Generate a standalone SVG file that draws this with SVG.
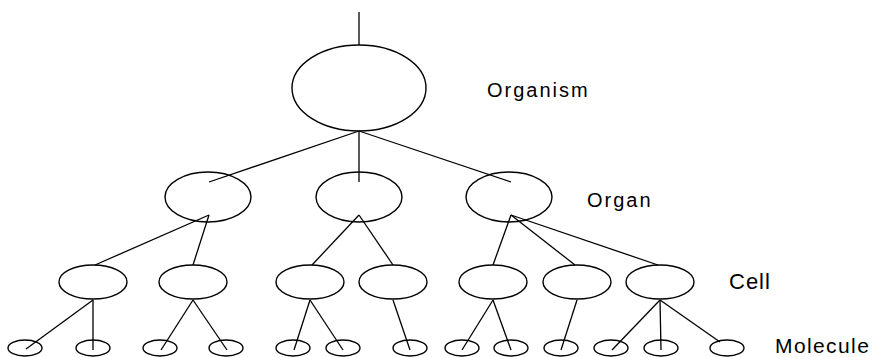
<svg xmlns="http://www.w3.org/2000/svg" width="875" height="357" viewBox="0 0 875 357">
<style>
.n{fill:none;stroke:#000;stroke-width:1.4}
.e line{stroke:#000;stroke-width:1.3}
.lbl{font-family:"Liberation Sans",Arial,sans-serif;fill:#000}
.s{font-size:20px;letter-spacing:2px}
.b{font-size:22px;letter-spacing:1px}
.m{font-size:21px;letter-spacing:1.4px}
</style>
<rect width="875" height="357" fill="#fff"/>
<g id="connectors" class="e">
<line x1="359" y1="12" x2="359" y2="45"/>
<line x1="359" y1="131" x2="209" y2="182"/>
<line x1="359" y1="131" x2="359" y2="182"/>
<line x1="359" y1="131" x2="511" y2="182"/>
<line x1="209" y1="215" x2="95" y2="265"/>
<line x1="209" y1="215" x2="193" y2="265"/>
<line x1="359" y1="215" x2="312" y2="265"/>
<line x1="359" y1="215" x2="393" y2="265"/>
<line x1="511" y1="215" x2="493" y2="265"/>
<line x1="511" y1="215" x2="575" y2="265"/>
<line x1="511" y1="215" x2="658" y2="265"/>
<line x1="93" y1="300" x2="26" y2="349"/>
<line x1="93" y1="300" x2="93" y2="350"/>
<line x1="193" y1="300" x2="161" y2="350"/>
<line x1="193" y1="300" x2="227" y2="350"/>
<line x1="310" y1="300" x2="294" y2="350"/>
<line x1="310" y1="300" x2="343" y2="350"/>
<line x1="393" y1="300" x2="410" y2="350"/>
<line x1="493" y1="300" x2="462" y2="350"/>
<line x1="493" y1="300" x2="511" y2="350"/>
<line x1="577" y1="300" x2="561" y2="350"/>
<line x1="660" y1="300" x2="612" y2="350"/>
<line x1="660" y1="300" x2="661" y2="350"/>
<line x1="660" y1="300" x2="720" y2="342"/>
</g>
<g id="organism"><ellipse class="n" cx="359" cy="88" rx="67" ry="43"/></g>
<g id="organ1"><ellipse class="n" cx="208" cy="197" rx="43" ry="25"/></g>
<g id="organ2"><ellipse class="n" cx="359" cy="197" rx="43" ry="25"/></g>
<g id="organ3"><ellipse class="n" cx="509" cy="197" rx="43" ry="25"/></g>
<g id="cell1"><ellipse class="n" cx="93" cy="282" rx="34" ry="17"/></g>
<g id="cell2"><ellipse class="n" cx="193" cy="282" rx="34" ry="17"/></g>
<g id="cell3"><ellipse class="n" cx="310" cy="282" rx="34" ry="17"/></g>
<g id="cell4"><ellipse class="n" cx="393" cy="282" rx="34" ry="17"/></g>
<g id="cell5"><ellipse class="n" cx="493" cy="282" rx="34" ry="17"/></g>
<g id="cell6"><ellipse class="n" cx="577" cy="282" rx="34" ry="17"/></g>
<g id="cell7"><ellipse class="n" cx="660" cy="282" rx="34" ry="17"/></g>
<g id="mol1"><ellipse class="n" cx="25" cy="348" rx="17" ry="8"/></g>
<g id="mol2"><ellipse class="n" cx="93" cy="348" rx="17" ry="8"/></g>
<g id="mol3"><ellipse class="n" cx="160" cy="348" rx="17" ry="8"/></g>
<g id="mol4"><ellipse class="n" cx="226" cy="348" rx="17" ry="8"/></g>
<g id="mol5"><ellipse class="n" cx="293" cy="348" rx="17" ry="8"/></g>
<g id="mol6"><ellipse class="n" cx="343" cy="348" rx="17" ry="8"/></g>
<g id="mol7"><ellipse class="n" cx="410" cy="348" rx="17" ry="8"/></g>
<g id="mol8"><ellipse class="n" cx="462" cy="348" rx="17" ry="8"/></g>
<g id="mol9"><ellipse class="n" cx="511" cy="348" rx="17" ry="8"/></g>
<g id="mol10"><ellipse class="n" cx="561" cy="348" rx="17" ry="8"/></g>
<g id="mol11"><ellipse class="n" cx="611" cy="348" rx="17" ry="8"/></g>
<g id="mol12"><ellipse class="n" cx="661" cy="348" rx="17" ry="8"/></g>
<g id="mol13"><ellipse class="n" cx="727" cy="348" rx="17" ry="8"/></g>
<g id="labels">
<text class="lbl s" x="487" y="97">Organism</text>
<text class="lbl s" x="587" y="207">Organ</text>
<text class="lbl b" x="729" y="289">Cell</text>
<text class="lbl m" x="775" y="353">Molecule</text>
</g>
</svg>
